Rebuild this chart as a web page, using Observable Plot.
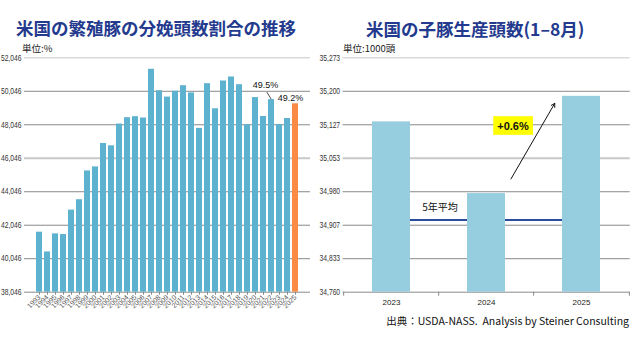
<!DOCTYPE html>
<html><head><meta charset="utf-8">
<script src="https://cdn.jsdelivr.net/npm/d3@7"></script>
<script src="https://cdn.jsdelivr.net/npm/@observablehq/plot@0.6"></script>
<style>
body{margin:0;background:#fff;}
#wrap{position:relative;width:630px;height:350px;overflow:hidden;font-family:"Noto Sans CJK JP",sans-serif;background:#fff;}
.title{position:absolute;font-weight:bold;color:#243a8e;font-size:17.5px;line-height:1;white-space:nowrap;}
.unit{position:absolute;font-size:9.5px;line-height:1;color:#222;white-space:nowrap;}
#caption{position:absolute;right:1px;top:316px;font-size:10.5px;line-height:1;color:#111;white-space:nowrap;}
#wrap svg{position:absolute;top:0;}
</style></head>
<body><div id="wrap">
<div class="title" style="left:16px;top:19px">米国の繁殖豚の分娩頭数割合の推移</div>
<div class="title" style="left:366px;top:20px">米国の子豚生産頭数(1–8月)</div>
<div class="unit" style="left:22px;top:44px">単位:%</div>
<div class="unit" style="left:343px;top:44px">単位:1000頭</div>
<div id="caption">出典：USDA-NASS.&nbsp; Analysis by Steiner Consulting</div>
</div>
<script>
// ---- Left chart data ----
const years = ["1993","1994","1995","1996","1997","1998","1999","2000","2001","2002","2003","2004","2005","2006","2007","2008","2009","2010","2011","2012","2013","2014","2015","2016","2017","2018","2019","2020","2021","2022","2023","2024","2025"];
const shares = [41.63,40.45,41.53,41.49,42.95,43.57,45.29,45.53,46.93,46.79,48.09,48.47,48.53,48.45,51.36,50.08,49.70,50.05,50.38,49.95,47.83,50.50,49.00,50.66,50.90,50.44,48.05,49.67,48.54,49.55,48.06,48.42,49.30];
const leftTicks = [38.046,40.046,42.046,44.046,46.046,48.046,50.046,52.046];
const leftTickLabels = ["38,046","40,046","42,046","44,046","46,046","48,046","50,046","52,046"];
const leftNotes = [{year:"2022", v:49.55, label:"49.5%"},{year:"2025", v:49.30, label:"49.2%"}];
const leftLeader = [{x1:"2021", y1:50.32, x2:"2022", y2:49.55}];

// ---- Right chart data ----
const pigYears = ["2023","2024","2025"];
const pigs = [35133, 34976, 35189];
const avg5 = 34918;
const rightTicks = [34760,34833.33,34906.67,34980,35053.33,35126.67,35200,35273.33];
const rightTickLabels = ["34,760","34,833","34,907","34,980","35,053","35,127","35,200","35,273"];
const growthNote = [{year:"2024", v:35124, label:"+0.6%"}];
const growthArrow = [{x1:"2024", y1:34915.5, x2:"2025", y2:35274.7}];
const avgNote = [{year:"2023", v:avg5, label:"5年平均"}];

const blue = "#5db3cf", orange = "#f98b45", lightBlue = "#96cddf", avgColor = "#2b4c9b";
const gridColor = (d,i) => (i === 4 || i === 7) ? "#c8c8c8" : "#8a8a8a";
const gridWidth = (d,i) => i === 4 ? 2 : 1;
const sans = "'Liberation Sans',Arial,sans-serif";

const leftTable = years.map((y,i)=>({year:y, v:shares[i]}));
const leftLabelMap = new Map(leftTicks.map((t,i)=>[t,leftTickLabels[i]]));
const leftGrid = leftTicks.map((t,i)=>({t, c:gridColor(t,i), w:gridWidth(t,i)}));

const left = Plot.plot({
  width: 318, height: 330,
  marginTop: 57.3, marginBottom: 38.3, marginLeft: 24, marginRight: 8,
  style: {background:"transparent", overflow:"visible", fontFamily: sans},
  color: {type:"identity"},
  x: {type:"band", domain: years, padding: 0.3, axis: null},
  y: {domain: [leftTicks[0], leftTicks[leftTicks.length-1]], axis: null},
  marks: [
    Plot.ruleY(leftGrid, {y:"t", stroke:"c", strokeWidth:"w"}),
    Plot.barY(leftTable, {x:"year", y1: () => leftTicks[0], y2:"v", fill: d => d.year === "2025" ? orange : blue}),
    Plot.axisY({ticks: leftTicks, tickFormat: d => leftLabelMap.get(d), tickSize:0, tickPadding:3, fontSize:8.5, fill:"#333"}),
    Plot.axisX({tickRotate:-45, tickSize:3, tickPadding:1, fontSize:7, fill:"#555", stroke:"#888"}),
    Plot.arrow(leftLeader, {x1:"x1", y1:"y1", x2:"x2", y2:"y2", headLength:0, insetStart:6.7, insetEnd:1, stroke:"#222", strokeWidth:0.8}),
    Plot.text(leftNotes.slice(0,1), {x:"year", y:"v", text:"label", dx:-6, dy:-14, fontSize:9, fill:"#111"}),
    Plot.text(leftNotes.slice(1), {x:"year", y:"v", text:"label", dx:-5, dy:-6, fontSize:9, fill:"#111"})
  ]
});
left.style.left = "0px";

const rightTable = pigYears.map((y,i)=>({year:y, v:pigs[i]}));
const rightLabelMap = new Map(rightTicks.map((t,i)=>[t,rightTickLabels[i]]));
const rightGrid = rightTicks.map((t,i)=>({t, c:gridColor(t,i), w:gridWidth(t,i)}));

const right = Plot.plot({
  width: 312, height: 330,
  marginTop: 57.3, marginBottom: 38.3, marginLeft: 24.6, marginRight: 0.3,
  style: {background:"transparent", overflow:"visible", fontFamily: sans},
  color: {type:"identity"},
  x: {type:"band", domain: pigYears, paddingInner: 0.6, paddingOuter: 0.3, axis: null},
  y: {domain: [rightTicks[0], rightTicks[rightTicks.length-1]], axis: null},
  marks: [
    Plot.ruleY(rightGrid, {y:"t", stroke:"c", strokeWidth:"w"}),
    Plot.ruleY([avg5], {y: d => d, x1: () => pigYears[0], x2: () => pigYears[2], stroke: avgColor, strokeWidth: 2}),
    Plot.barY(rightTable, {x:"year", y1: () => rightTicks[0], y2:"v", fill: lightBlue}),
    Plot.ruleX(pigYears, {x: d => d, y1: () => rightTicks[0], y2: () => rightTicks[0], insetBottom:-4, dx:-47.85, stroke:"#888"}),
    Plot.ruleX(pigYears.slice(2), {x: d => d, y1: () => rightTicks[0], y2: () => rightTicks[0], insetBottom:-4, dx:47.85, stroke:"#888"}),
    Plot.axisY({ticks: rightTicks, tickFormat: d => rightLabelMap.get(d), tickSize:0, tickPadding:3, fontSize:8.5, fill:"#333"}),
    Plot.axisX({tickSize:0, tickPadding:7, fontSize:8, fill:"#222"}),
    Plot.text(avgNote, {x:"year", y:"v", text:"label", dx:48.5, dy:-12, fontSize:10, fontFamily:"'Noto Sans CJK JP',sans-serif", fill:"#111"}),
    Plot.arrow(growthArrow, {x1:"x1", y1:"y1", x2:"x2", y2:"y2", insetStart:48.9, insetEnd:53.4, headLength:6, stroke:"#111", strokeWidth:1}),
    Plot.text(growthNote, {x:"year", y:"v", text:"label", dx:26.5, fontSize:11, fontWeight:"bold", fill:"#111"})
  ]
});
right.style.left = "318px";

const wrap = document.getElementById("wrap");
wrap.appendChild(left);
wrap.appendChild(right);

// condense the y tick labels to fit the narrow left margin (as in the reference)
for (const svg of [left, right]) {
  const labels = new Set([...leftTickLabels, ...rightTickLabels]);
  for (const t of svg.querySelectorAll("text")) {
    if (labels.has(t.textContent)) {
      t.setAttribute("textLength", "20.5");
      t.setAttribute("lengthAdjust", "spacingAndGlyphs");
    }
  }
}

// yellow box behind the growth label
const gt = [...right.querySelectorAll("text")].find(e => e.textContent === "+0.6%");
if (gt) {
  const bb = gt.getBBox();
  const r = document.createElementNS("http://www.w3.org/2000/svg","rect");
  r.setAttribute("x", bb.x - 4); r.setAttribute("y", bb.y - 3.3);
  r.setAttribute("width", bb.width + 8); r.setAttribute("height", bb.height + 6.6);
  r.setAttribute("fill", "#ffff00");
  const tr = gt.getAttribute("transform");
  if (tr) r.setAttribute("transform", tr);
  gt.parentNode.insertBefore(r, gt);
}
</script>
</body></html>
